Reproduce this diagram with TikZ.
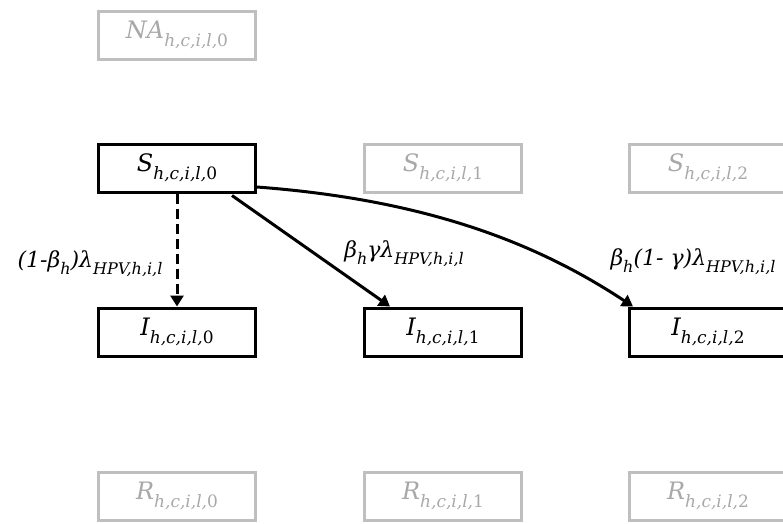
\documentclass[tikz,border=0pt]{standalone}
\usepackage{fontspec}
\usetikzlibrary{arrows.meta}
\newfontfamily\modelfont{DejaVu Serif}
\definecolor{boxgray}{RGB}{191,191,191}
\definecolor{txtgray}{RGB}{168,168,168}
% lowered, smaller index text: \lo{size}{text}
\newcommand\lo[2]{\raisebox{-0.32em}{\fontsize{#1}{#1}\selectfont #2}}
% compartment label: letter with the index h,c,i,l,k
\newcommand\comp[2]{{\itshape #1}\lo{17}{\itshape h,c,i,l,\upshape #2}}
\begin{document}
\begin{tikzpicture}[x=1pt,y=-1pt,
  stage/.style={draw=black, line width=3pt, minimum width=157pt, minimum height=48pt,
    inner sep=0pt, font=\modelfont\fontsize{24}{28}\selectfont},
  faded/.style={stage, draw=boxgray, text=txtgray},
  flow/.style={line width=3pt, -{Triangle[length=11pt,width=13pt]}},
  rate/.style={font=\modelfont\itshape\fontsize{22}{26}\selectfont, inner sep=0pt}]
  \useasboundingbox (0,0) rectangle (783,523);
  \clip (0,0) rectangle (783,523);

  % compartments
  \node[faded] (NA) at (177,35)  {\comp{NA}{0}};
  \node[stage] (S0) at (177,168) {\comp{S}{0}};
  \node[faded] (S1) at (443,168) {\comp{S}{1}};
  \node[faded] (S2) at (708,168) {\comp{S}{2}};
  \node[stage] (I0) at (177,332) {\comp{I}{0}};
  \node[stage] (I1) at (443,332) {\comp{I}{1}};
  \node[stage] (I2) at (708,332) {\comp{I}{2}};
  \node[faded] (R0) at (177,496) {\comp{R}{0}};
  \node[faded] (R1) at (443,496) {\comp{R}{1}};
  \node[faded] (R2) at (708,496) {\comp{R}{2}};

  % infection flows
  \draw[flow, dash pattern=on 10pt off 5pt] (S0.south) -- (I0.north);
  \draw[flow] ([xshift=-25pt,yshift=-2pt]S0.south east) -- ([xshift=27pt]I1.north west);
  \draw[flow] ([yshift=-19pt]S0.east) .. controls (430,200) and (540,245) .. ([xshift=5pt]I2.north west);

  % rates
  \node[rate] (r0) at (90,264)  {(1-β\lo{16}{h})λ\lo{16}{HPV,h,i,l}};
  \node[rate] (r1) at (404,254) {β\lo{16}{h}γλ\lo{16}{HPV,h,i,l}};
  \node[rate] (r2) at (693,262) {β\lo{16}{h}(1- γ)λ\lo{16}{HPV,h,i,l}};
\end{tikzpicture}
\end{document}
